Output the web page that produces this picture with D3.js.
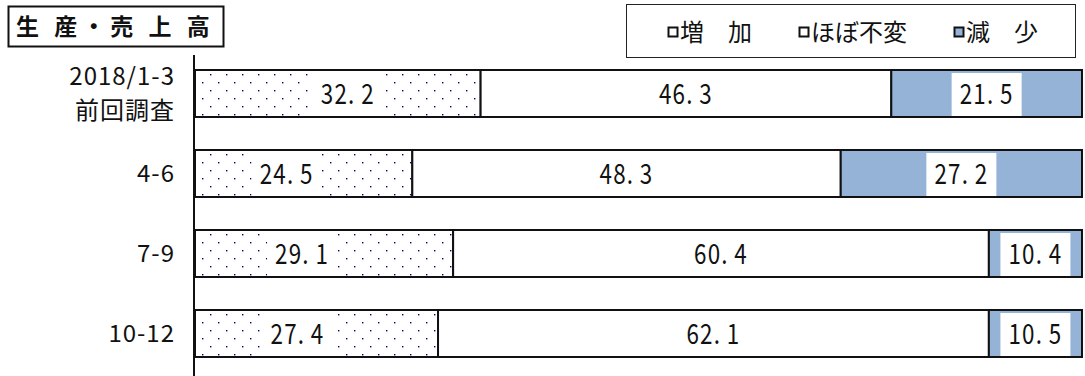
<!DOCTYPE html>
<html>
<head>
<meta charset="utf-8">
<script src="https://cdn.jsdelivr.net/npm/d3@7"></script>
<style>
  body { margin: 0; background: #fff; }
  svg { display: block; }
  text { font-family: "Noto Sans CJK JP", "Noto Sans", sans-serif; fill: #111; }
</style>
</head>
<body>
<div class="barchart"></div>
<script>
// data
var categories = ["2018/1-3\n前回調査", "4-6", "7-9", "10-12"];
var increase = [32.2, 24.5, 29.1, 27.4];
var unchanged = [46.3, 48.3, 60.4, 62.1];
var decrease = [21.5, 27.2, 10.4, 10.5];
var seriesNames = ["増　加", "ほぼ不変", "減　少"];
var title = "生 産・売 上 高";

// the increase labels are not centred in the original
var incLabelShift = [10, -17, -22, -19];

var width = 1085, height = 376;
var blue = "#95b3d7";

var svg = d3.select(".barchart").append("svg")
  .attr("width", width)
  .attr("height", height);

var defs = svg.append("defs");
var pat = defs.append("pattern")
  .attr("id", "dots")
  .attr("patternUnits", "userSpaceOnUse")
  .attr("width", 16)
  .attr("height", 16);
pat.append("rect").attr("width", 16).attr("height", 16).attr("fill", "#fff");
pat.append("rect").attr("x", 2).attr("y", 10).attr("width", 1.4).attr("height", 1.4).attr("fill", "#00007a");
pat.append("rect").attr("x", 10).attr("y", 2).attr("width", 1.4).attr("height", 1.4).attr("fill", "#00007a");

var xc = d3.scaleLinear().domain([0, 100]).range([195, 1082]);
var yc = d3.scaleBand()
  .domain(categories)
  .range([53.5, 373.5])
  .paddingInner(0.4125)
  .paddingOuter(0.20625);

var rows = categories.map(function(c, i) {
  return { cat: c, vals: [increase[i], unchanged[i], decrease[i]], i: i };
});
var fills = ["url(#dots)", "#fff", blue];

// bars
rows.forEach(function(r) {
  var acc = 0;
  r.vals.forEach(function(v, k) {
    var x0 = xc(acc), x1 = xc(acc + v);
    if (k == 2) x1 = xc(100);
    svg.append("rect")
      .attr("x", x0)
      .attr("y", yc(r.cat))
      .attr("width", x1 - x0)
      .attr("height", yc.bandwidth())
      .attr("fill", fills[k])
      .attr("stroke", "#111")
      .attr("stroke-width", 2);
    acc += v;
  });
});

// value labels with white boxes
rows.forEach(function(r) {
  var acc = 0;
  r.vals.forEach(function(v, k) {
    var cx = (xc(acc) + xc(k == 2 ? 100 : acc + v)) / 2;
    if (k == 0) cx += incLabelShift[r.i];
    var cy = yc(r.cat) + yc.bandwidth() / 2;
    if (k != 1) {
      svg.append("rect")
        .attr("x", cx - 35)
        .attr("y", yc(r.cat) + 3)
        .attr("width", 70)
        .attr("height", yc.bandwidth() - 4)
        .attr("fill", "#fff");
    }
    var parts = d3.format(".1f")(v).split(".");
    var t = svg.append("g")
      .attr("transform", "translate(" + cx + "," + (cy + 10) + ") scale(0.8,1)")
      .append("text")
      .attr("text-anchor", "middle")
      .style("font-size", "28px")
      .style("letter-spacing", "1.5px");
    t.append("tspan").text(parts[0] + ".");
    t.append("tspan").attr("dx", 7).text(parts[1]);
    acc += v;
  });
});

// category axis
svg.append("line")
  .attr("x1", 194).attr("x2", 194)
  .attr("y1", 55).attr("y2", height)
  .attr("stroke", "#111").attr("stroke-width", 2);

rows.forEach(function(r) {
  var lines = r.cat.split("\n");
  var cy = yc(r.cat) + yc.bandwidth() / 2;
  var t = svg.append("text")
    .attr("text-anchor", "end")
    .style("font-size", "24px")
    .style("letter-spacing", "1px");
  lines.forEach(function(l, j) {
    var off = lines.length == 1 ? 0 : (j == 0 ? -17 : 17);
    t.append("tspan")
      .attr("x", 175)
      .attr("y", cy + off + 8.5)
      .text(l);
  });
});

// title box
svg.append("rect")
  .attr("x", 8.5).attr("y", 6.5)
  .attr("width", 215).attr("height", 40)
  .attr("fill", "#fff").attr("stroke", "#111").attr("stroke-width", 2);
svg.append("text")
  .attr("x", 16).attr("y", 35)
  .style("font-size", "23px")
  .style("font-weight", "bold")
  .style("letter-spacing", "5px")
  .text(title);

// legend
svg.append("rect")
  .attr("x", 626.5).attr("y", 4.5)
  .attr("width", 449).attr("height", 53)
  .attr("fill", "#fff").attr("stroke", "#222").attr("stroke-width", 1);
var legX = [668, 799, 954];
var legFill = ["#fff", "#fff", blue];
seriesNames.forEach(function(n, k) {
  svg.append("rect")
    .attr("x", legX[k] + 0.5).attr("y", 27.5)
    .attr("width", 9).attr("height", 9)
    .attr("fill", legFill[k])
    .attr("stroke", "#111").attr("stroke-width", 2);
  svg.append("text")
    .attr("x", legX[k] + 12).attr("y", 41)
    .style("font-size", "24px")
    .text(n);
});
</script>
</body>
</html>
